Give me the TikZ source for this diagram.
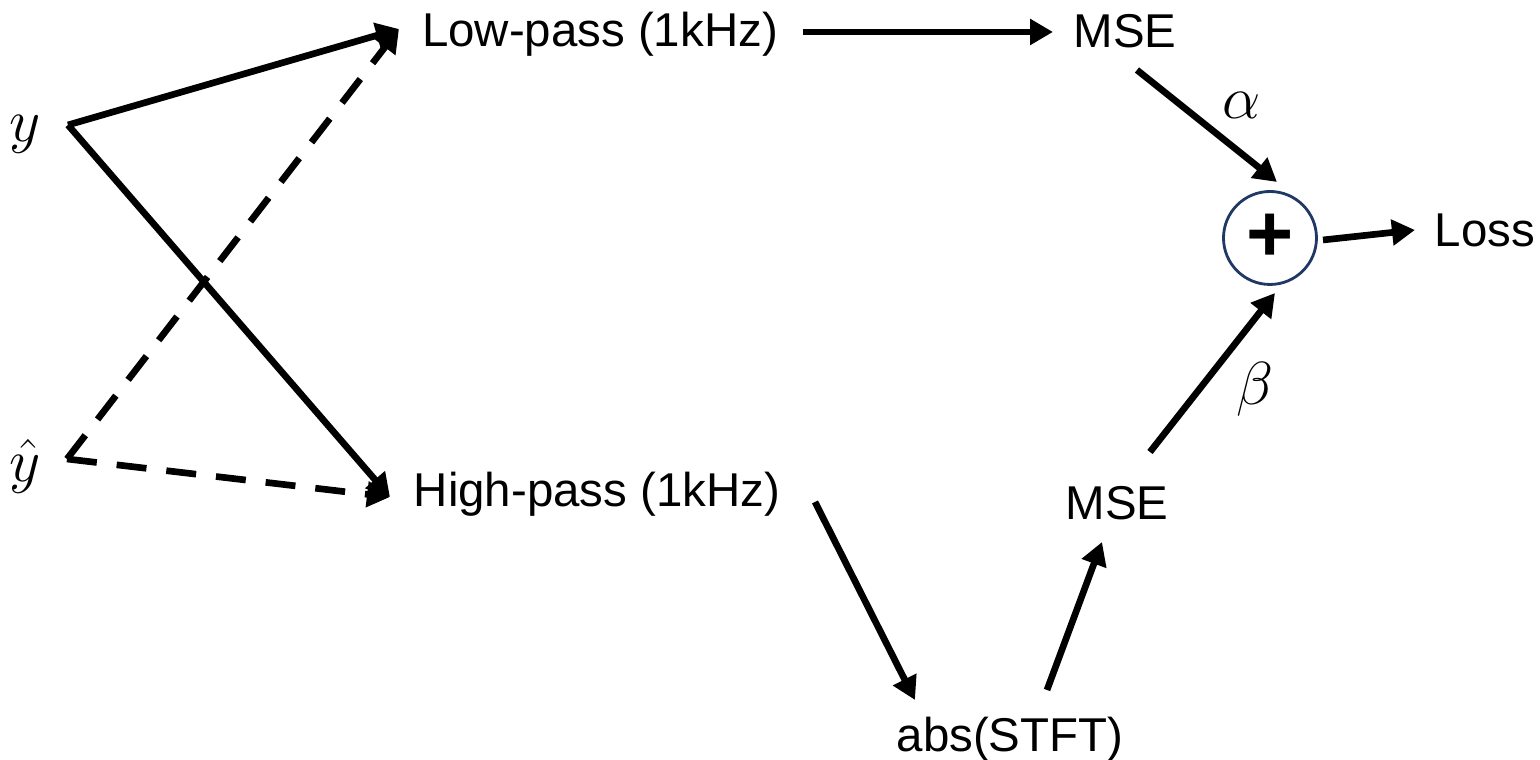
\documentclass[tikz,border=0pt]{standalone}
\usepackage{fontspec}
\setmainfont{Liberation Sans}
\usetikzlibrary{arrows.meta}
\definecolor{sumblue}{HTML}{203864}

\begin{document}
\begin{tikzpicture}[
    arr/.style={line width=1.9pt, -{Triangle[length=2.3mm,width=2.5mm]}},
    darr/.style={arr, dash pattern=on 3mm off 2mm},
    lbl/.style={anchor=base, inner sep=0pt, font=\fontsize{13.5}{16}\selectfont},
    sym/.style={inner sep=0pt, font=\fontsize{16}{18}\selectfont}]
        \useasboundingbox (0,0) rectangle (15.4,7.6);
        % signals
        \node[sym] (y) at (0.25,6.26) {$y$};
        \node[sym] (yhat) at (0.25,2.94) {$\hat{y}$};
        \coordinate (yOut) at (0.68,6.35);
        \coordinate (yhatOut) at (0.67,3.01);
        % filters
        \node[lbl] (low) at (6.00,7.13) {Low-pass (1kHz)};
        \node[lbl] (high) at (5.97,2.53) {High-pass (1kHz)};
        \coordinate (lowIn) at (3.99,7.31);
        \coordinate (highIn) at (3.90,2.63);
        \coordinate (lowOut) at (8.03,7.28);
        \coordinate (highOut) at (8.15,2.58);
        % losses
        \node[lbl] (mseLow) at (11.25,7.12) {MSE};
        \node[lbl] (mseHigh) at (11.17,2.40) {MSE};
        \node[lbl] (stft) at (10.10,0.08) {abs(STFT)};
        \node[lbl] (loss) at (14.85,5.13) {Loss};
        \coordinate (mseLowIn) at (10.53,7.28);
        \coordinate (mseLowOut) at (11.37,6.90);
        \coordinate (stftIn) at (9.15,0.60);
        \coordinate (stftOut) at (10.47,0.70);
        \coordinate (mseHighIn) at (11.02,2.18);
        \coordinate (mseHighOut) at (11.50,3.08);
        % sum
        \node[circle, draw=sumblue, line width=0.8pt, minimum size=0.93cm, inner sep=0pt,
              font=\fontsize{23}{23}\selectfont\bfseries] (sum) at (12.70,5.22) {+};
        \coordinate (sumInA) at (12.77,5.78);
        \coordinate (sumInB) at (12.75,4.67);
        \coordinate (sumOut) at (13.23,5.20);
        \coordinate (lossIn) at (14.15,5.30);
        \node[sym] (alpha) at (12.42,6.55) {$\alpha$};
        \node[sym] (beta) at (12.55,3.71) {$\beta$};
        % connectors
        \draw[darr] (yhatOut) -- (lowIn);
        \draw[darr] (yhatOut) -- (highIn);
        \draw[arr] (yOut) -- (lowIn);
        \draw[arr] (yOut) -- (highIn);
        \draw[arr] (lowOut) -- (mseLowIn);
        \draw[arr] (highOut) -- (stftIn);
        \draw[arr] (stftOut) -- (mseHighIn);
        \draw[arr] (mseLowOut) -- (sumInA);
        \draw[arr] (mseHighOut) -- (sumInB);
        \draw[arr] (sumOut) -- (lossIn);
\end{tikzpicture}
\end{document}
